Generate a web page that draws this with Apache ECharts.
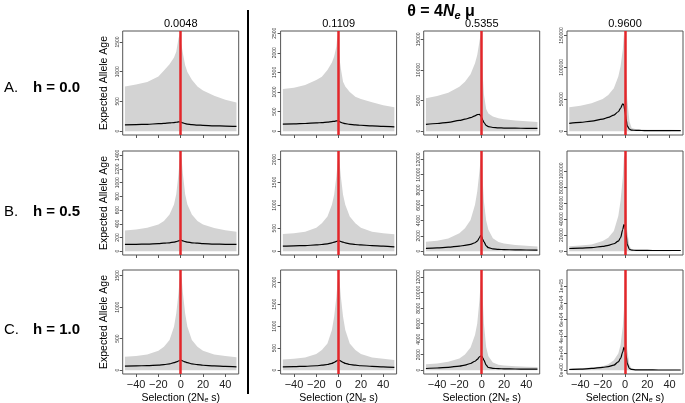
<!DOCTYPE html>
<html><head><meta charset="utf-8">
<script src="https://cdn.jsdelivr.net/npm/echarts@6/dist/echarts.min.js"></script>
<style>html,body{margin:0;padding:0;background:#fff}#c{width:685px;height:403px}</style>
</head><body><div id="c"></div><script>
// ---- data ----
const sel = [-50,-40,-30,-20,-15,-10,-6,-4,-2,-1,0,1,2,4,6,10,15,20,30,40,50];
const thetaLabels = ['0.0048','0.1109','0.5355','0.9600'];
const hLabels = ['h = 0.0','h = 0.5','h = 1.0'];
const rowLetters = ['A.','B.','C.'];
const xTicks = [-40,-20,0,20,40];

// h = 0.0
const upper_h0_t1 = [750,785,825,921,1020,1126,1240,1336,1560,1620,1500,1421,1308,1109,995,865,750,682,597,529,483];
const mean_h0_t1  = [107,110,115,125,130,138,145,150,155,157,153,145,138,125,118,110,103,98,90,85,80];
const upper_h0_t2 = [1075,1110,1178,1306,1390,1562,1750,1903,2160,2458,2200,1818,1600,1262,1140,1000,880,820,735,660,607];
const mean_h0_t2  = [180,185,195,210,220,232,245,252,262,265,255,240,225,205,190,175,160,150,135,120,110];
const upper_h0_t3 = [5360,5740,6280,7270,8090,9300,11100,12460,14650,15740,14000,9000,6000,3600,2900,2400,2100,1950,1750,1600,1500];
const mean_h0_t3  = [1100,1250,1450,1750,1950,2200,2500,2700,2750,2550,2200,1800,1400,950,750,600,540,510,480,460,440];
const upper_h0_t4 = [37300,39900,43700,50500,56800,67300,85600,101400,127700,151000,140000,90000,50000,15000,5000,3000,2500,2300,2100,2000,1900];
const mean_h0_t4  = [12100,13700,15800,18900,21600,25200,30400,35800,43000,41000,30400,18900,8400,3100,1600,1200,1000,950,900,850,800];
// h = 0.5
const upper_h5_t1 = [303,317,342,390,439,537,683,830,1122,1317,1407,1317,1122,830,683,537,439,390,340,305,284];
const mean_h5_t1  = [98,100,104,110,116,122,132,140,150,156,161,156,150,140,132,122,116,110,104,100,98];
const upper_h5_t2 = [374,389,424,512,609,754,1011,1231,1633,1890,2100,1890,1633,1231,1011,754,609,512,424,389,367];
const mean_h5_t2  = [110,115,122,135,145,160,180,195,210,220,227,220,210,195,180,160,145,135,122,110,95];
const upper_h5_t3 = [1230,1360,1670,2330,2990,4090,6070,7820,10460,12000,12600,9000,6500,4000,2800,1700,1200,1000,800,700,600];
const mean_h5_t3  = [350,420,520,660,760,880,1100,1320,1750,2020,1900,1500,1230,700,450,300,230,200,170,150,130];
const upper_h5_t4 = [6250,7100,8400,12500,16700,25000,43700,62500,91700,116700,120000,60000,25000,6000,2500,1500,1300,1200,1100,1000,1000];
const mean_h5_t4  = [3300,3800,4500,5900,7200,9200,12500,16700,27000,33000,31000,20800,8400,2100,1300,1000,900,850,800,800,800];
// h = 1.0
const upper_h1_t1 = [212,223,250,307,371,478,689,902,1221,1433,1530,1433,1221,902,689,478,371,307,250,223,205];
const mean_h1_t1  = [64,67,72,80,88,100,118,130,145,153,159,153,145,130,118,100,88,78,68,60,53];
const upper_h1_t2 = [243,258,289,365,456,608,912,1216,1672,1976,2190,1976,1672,1216,912,608,456,365,289,258,228];
const mean_h1_t2  = [76,80,88,100,112,128,155,175,205,220,228,220,205,175,155,128,112,100,88,75,61];
const upper_h1_t3 = [776,870,1080,1510,2030,2930,4530,6040,9060,11220,12440,9000,6000,3000,1800,1000,700,600,500,450,400];
const mean_h1_t3  = [216,280,370,518,650,862,1150,1380,1725,1800,1810,1600,1290,650,345,230,190,170,150,140,130];
const upper_h1_t4 = [2000,2400,3200,4760,7140,11900,19800,29750,51500,71400,114400,50000,25000,6000,2000,1000,800,700,600,600,600];
const mean_h1_t4  = [800,1200,2000,3200,4300,5950,9900,13900,21800,27000,24000,17850,7930,2000,800,400,300,250,200,200,200];

// y tick values per panel
const yt_h0 = [[0,500,1000,1500],[0,500,1000,1500,2000,2500],[0,5000,10000,15000],[0,50000,100000,150000]];
const yt_h5 = [[0,200,400,600,800,1000,1200,1400],[0,500,1000,1500,2000],[0,2000,4000,6000,8000,10000,12000],[0,20000,40000,60000,80000,100000,120000]];
const yt_h1 = [[0,500,1000,1500],[0,500,1000,1500,2000],[0,2000,4000,6000,8000,10000,12000],[0,20000,40000,60000,80000,100000]];

// ---- layout ----
const colCenters = [180.7, 338.6, 481.7, 625];
const rowTops = [31, 151, 270];
const PW = 116, PH = 104;
const FONT = '"Liberation Sans", Arial, sans-serif';

const uppers = [[upper_h0_t1,upper_h0_t2,upper_h0_t3,upper_h0_t4],[upper_h5_t1,upper_h5_t2,upper_h5_t3,upper_h5_t4],[upper_h1_t1,upper_h1_t2,upper_h1_t3,upper_h1_t4]];
const means = [[mean_h0_t1,mean_h0_t2,mean_h0_t3,mean_h0_t4],[mean_h5_t1,mean_h5_t2,mean_h5_t3,mean_h5_t4],[mean_h1_t1,mean_h1_t2,mean_h1_t3,mean_h1_t4]];
const yts = [yt_h0, yt_h5, yt_h1];

function sci(v){ if(v===0) return '0e+00'; let s=v.toExponential(0); return s.replace(/e([+-])(\d)$/,'e$10$2'); }
function xfmt(v){ return v<0 ? '\u2212'+Math.abs(v) : String(v); }

const grid=[], xAxis=[], yAxis=[], series=[];
for(let r=0;r<3;r++){
  for(let c=0;c<4;c++){
    const g=r*4+c;
    const up=uppers[r][c], mn=means[r][c];
    const M=Math.max(...up);
    grid.push({left:colCenters[c]-PW/2, top:rowTops[r], width:PW, height:PH, show:true, borderColor:'#555', borderWidth:1, backgroundColor:'rgba(0,0,0,0)'});
    xAxis.push({gridIndex:g, type:'value', min:-52, max:52, position:'bottom',
      axisLine:{show:false, onZero:false}, splitLine:{show:false},
      axisTick:{show:true, length:3, inside:false, lineStyle:{color:'#555'}, customValues:xTicks},
      axisLabel:{show:r===2, customValues:xTicks, formatter:xfmt, fontSize:11, color:'#222', margin:5, fontFamily:FONT}});
    const isSci = (r===2 && c===3);
    yAxis.push({gridIndex:g, type:'value', min:-0.04*M, max:1.04*M, position:'left',
      axisLine:{show:false, onZero:false}, splitLine:{show:false},
      axisTick:{show:true, length:3, lineStyle:{color:'#555'}, customValues:yts[r][c]},
      axisLabel:{show:true, customValues:yts[r][c], rotate:90, fontSize:5, color:'#333', margin:3, hideOverlap:false, fontFamily:FONT,
        formatter: isSci ? sci : (v)=>String(v)}});
    series.push({type:'line', xAxisIndex:g, yAxisIndex:g, data:sel.map((x,i)=>[x,up[i]]), symbol:'none',
      lineStyle:{width:0}, areaStyle:{color:'#d3d3d3', opacity:1}, silent:true, z:1});
    series.push({type:'line', xAxisIndex:g, yAxisIndex:g, data:sel.map((x,i)=>[x,mn[i]]), symbol:'none',
      smooth:0.3, smoothMonotone:'x', lineStyle:{color:'#000', width:1.2}, silent:true, z:3,
      markLine:{symbol:['none','none'], silent:true, label:{show:false}, animation:false,
        lineStyle:{color:'#e3262a', width:2.5, type:'solid', opacity:1}, data:[{xAxis:0}]}});
  }
}

const graphic=[];
graphic.push({type:'line', shape:{x1:248,y1:10,x2:248,y2:394}, style:{stroke:'#000', lineWidth:2}});
graphic.push({type:'text', x:441, y:12, style:{text:'{b|θ = 4}{i|N}{s|e}{b| μ}', textAlign:'center', verticalAlign:'middle',
  rich:{b:{fontSize:16, fontWeight:'bold', fontFamily:FONT, fill:'#000'}, i:{fontSize:16, fontWeight:'bold', fontStyle:'italic', fontFamily:FONT, fill:'#000'}, s:{fontSize:11, fontWeight:'bold', fontStyle:'italic', fontFamily:FONT, fill:'#000', padding:[8,0,0,0]}}}});
for(let c=0;c<4;c++){
  graphic.push({type:'text', x:colCenters[c], y:24, style:{text:thetaLabels[c], textAlign:'center', verticalAlign:'middle', fontSize:11, fontFamily:FONT, fill:'#000'}});
  graphic.push({type:'text', x:colCenters[c], y:398, style:{text:'{a|Selection (2N}{s|e}{a| s)}', textAlign:'center', verticalAlign:'middle',
    rich:{a:{fontSize:10.5, fontFamily:FONT, fill:'#000'}, s:{fontSize:7, fontStyle:'italic', fontFamily:FONT, fill:'#000', padding:[4,0,0,0]}}}});
}
const rowLabelY=[88,212,330];
for(let r=0;r<3;r++){
  graphic.push({type:'text', x:4, y:rowLabelY[r], style:{text:rowLetters[r], textAlign:'left', verticalAlign:'middle', fontSize:15, fontFamily:FONT, fill:'#000'}});
  graphic.push({type:'text', x:33, y:rowLabelY[r], style:{text:hLabels[r], textAlign:'left', verticalAlign:'middle', fontSize:15, fontWeight:'bold', fontFamily:FONT, fill:'#000'}});
  graphic.push({type:'text', x:104, y:rowTops[r]+PH/2, rotation:Math.PI/2, style:{text:'Expected Allele Age', textAlign:'center', verticalAlign:'middle', fontSize:10.5, fontFamily:FONT, fill:'#000'}});
}

const chart=echarts.init(document.getElementById('c'));
chart.setOption({animation:false, backgroundColor:'#fff', grid, xAxis, yAxis, series, graphic});
</script></body></html>
